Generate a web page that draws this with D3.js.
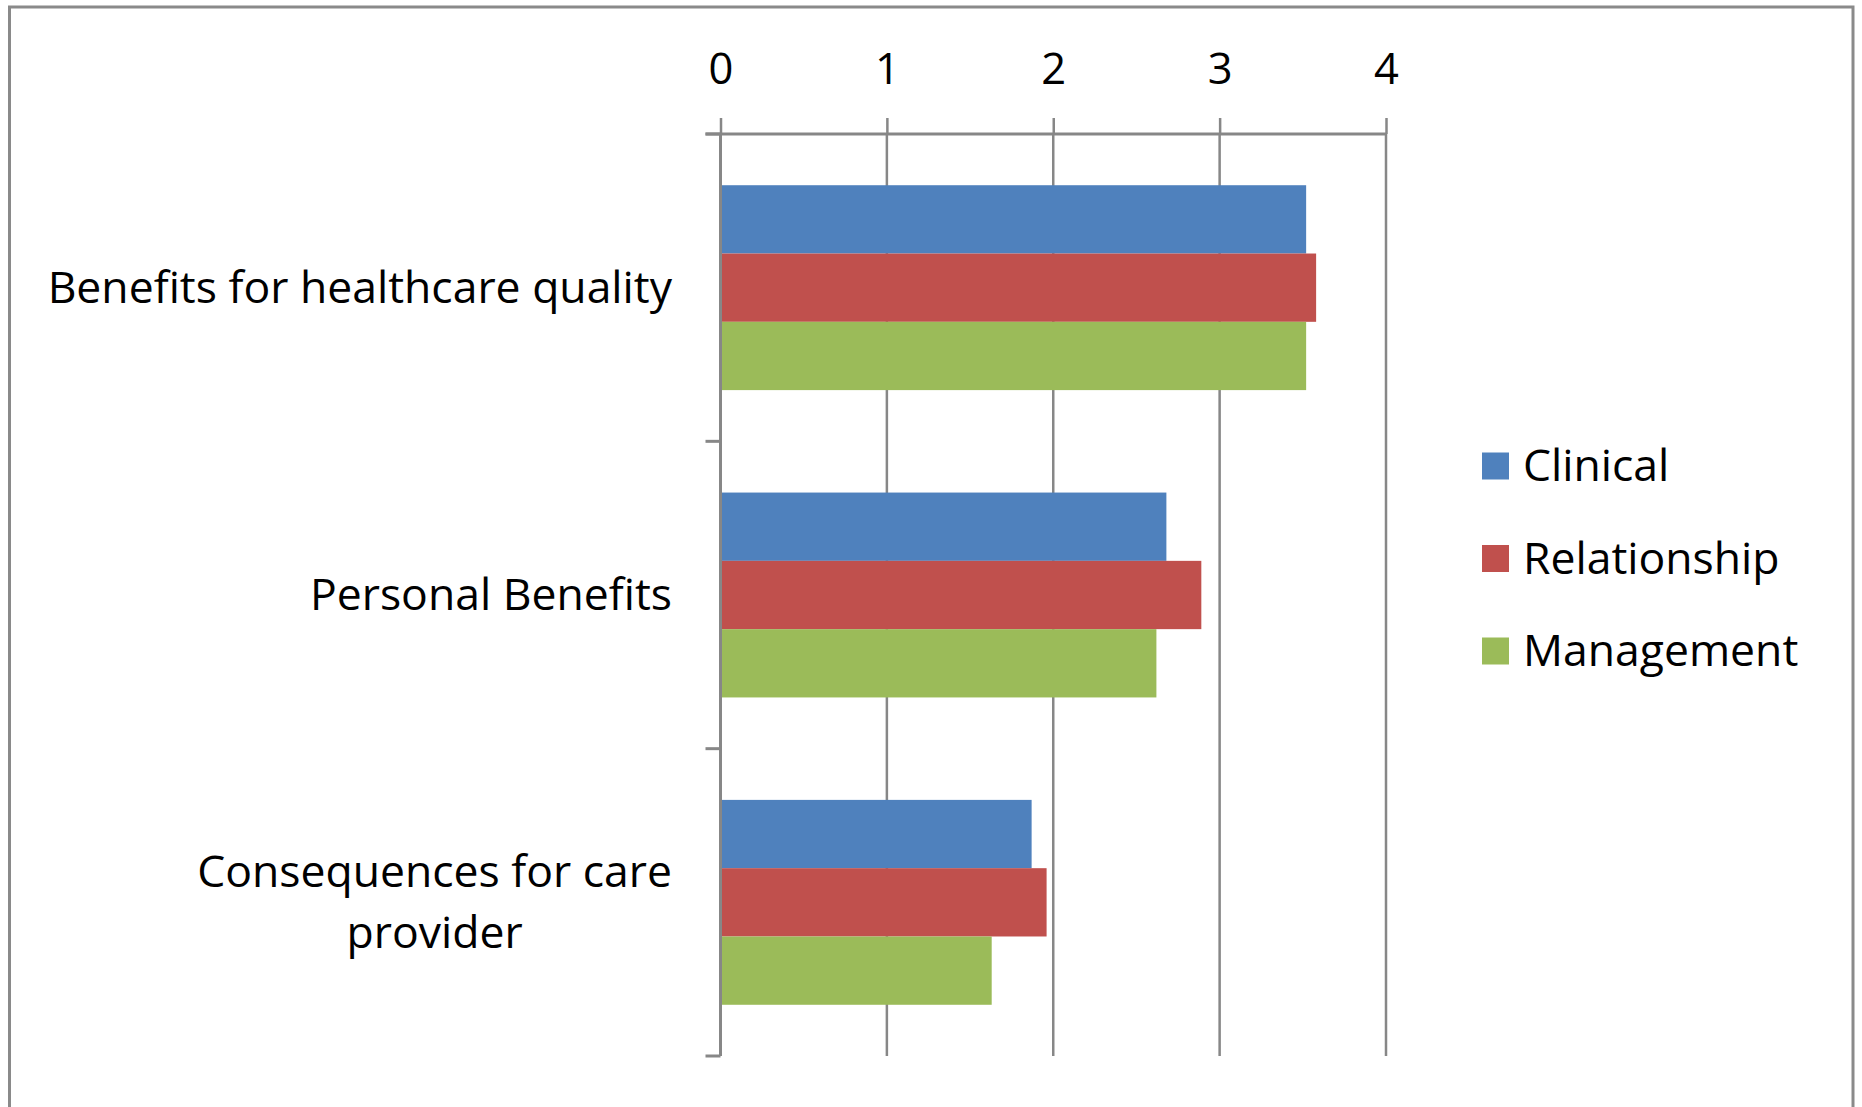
<!DOCTYPE html>
<html>
<head>
<meta charset="utf-8">
<script src="https://cdn.jsdelivr.net/npm/d3@7"></script>
<style>
  html, body { margin: 0; padding: 0; background: #fff; }
  svg { display: block; }
  text { font-family: "Open Sans", Lato, sans-serif; fill: #000; }
</style>
</head>
<body>
<svg id="chart" width="1862" height="1107"></svg>
<script>
// Survey dimensions (categories) and the mean score per respondent group.
const categories = [
  "Benefits for healthcare quality",
  "Personal Benefits",
  "Consequences for care provider"
];
// Explicit wrapping for the category labels.
const categoryLines = [
  ["Benefits for healthcare quality"],
  ["Personal Benefits"],
  ["Consequences for care", "provider"]
];
const seriesNames = ["Clinical", "Relationship", "Management"];
const clinical     = [3.52, 2.68, 1.87];
const relationship = [3.58, 2.89, 1.96];
const management   = [3.52, 2.62, 1.63];
const seriesValues = [clinical, relationship, management];
const seriesColors = ["#4F81BD", "#C0504D", "#9BBB59"];
const xTicks = [0, 1, 2, 3, 4];

const svg = d3.select("#chart");
const W = 1862, H = 1107;
const labelFont = 44.5;
const tickFont = 43.5;

// Plot area
const plot = { left: 720.5, right: 1386, top: 134, bottom: 1056 };

const x = d3.scaleLinear().domain([0, 4]).range([plot.left, plot.right]);
const y = d3.scaleBand().domain(categories)
  .range([plot.top, plot.bottom])
  .paddingInner(1 / 3).paddingOuter(1 / 6);
const ySub = d3.scaleBand().domain(seriesNames).range([0, y.bandwidth()]);

const gridColor = "#878787";

// Outer chart frame
svg.append("rect")
  .attr("x", 9.5).attr("y", 7)
  .attr("width", 1843.5).attr("height", H + 20)
  .attr("fill", "none").attr("stroke", "#8a8a8a").attr("stroke-width", 3);

// Vertical gridlines
svg.append("g").selectAll("line").data(xTicks).join("line")
  .attr("x1", d => x(d)).attr("x2", d => x(d))
  .attr("y1", plot.top).attr("y2", plot.bottom)
  .attr("stroke", gridColor).attr("stroke-width", 2.5);

// Bars
const groups = svg.append("g").selectAll("g").data(categories).join("g")
  .attr("transform", c => `translate(0,${y(c)})`);
groups.selectAll("rect")
  .data((c, i) => seriesNames.map((s, j) => ({ s, v: seriesValues[j][i], color: seriesColors[j] })))
  .join("rect")
  .attr("x", x(0))
  .attr("y", d => ySub(d.s))
  .attr("width", d => x(d.v) - x(0))
  .attr("height", ySub.bandwidth())
  .attr("fill", d => d.color);

// Top value axis
const xAxis = d3.axisTop(x).tickValues(xTicks).tickSize(16).tickPadding(34)
  .tickFormat(d3.format("d"));
const gx = svg.append("g").attr("transform", `translate(0,${plot.top})`).call(xAxis);
gx.select(".domain").remove();
gx.selectAll(".tick line").attr("stroke", gridColor).attr("stroke-width", 2.5);
gx.selectAll(".tick text").attr("font-size", tickFont).attr("fill", "#000")
  .attr("font-family", "'Open Sans', Lato, sans-serif");
gx.append("line")
  .attr("x1", plot.left - 15).attr("x2", plot.right)
  .attr("y1", 0).attr("y2", 0)
  .attr("stroke", gridColor).attr("stroke-width", 3);

// Left category axis (line and tick marks between categories)
const catBounds = [plot.top].concat(categories.map(c => y(c) + y.bandwidth() + y.step() * y.paddingInner() / 2));
svg.append("line")
  .attr("x1", plot.left).attr("x2", plot.left)
  .attr("y1", plot.top).attr("y2", plot.bottom)
  .attr("stroke", gridColor).attr("stroke-width", 3);
svg.append("g").selectAll("line").data(catBounds).join("line")
  .attr("x1", plot.left - 15).attr("x2", plot.left)
  .attr("y1", d => d).attr("y2", d => d)
  .attr("stroke", gridColor).attr("stroke-width", 3);

// Category labels: right-aligned block, lines centred within the block
const lineGap = 61;
const labelRight = 672;
categories.forEach((c, i) => {
  const lines = categoryLines[i];
  const cy = y(c) + y.bandwidth() / 2;
  const g = svg.append("g");
  const texts = lines.map((ln, k) => g.append("text")
    .attr("font-size", labelFont)
    .attr("y", cy + (k - (lines.length - 1) / 2) * lineGap + 15)
    .text(ln));
  const widths = texts.map(t => t.node().getComputedTextLength());
  const maxW = d3.max(widths);
  texts.forEach(t => t.attr("text-anchor", "middle").attr("x", labelRight - maxW / 2));
});

// Legend
const legend = svg.append("g").selectAll("g").data(seriesNames).join("g")
  .attr("transform", (d, i) => `translate(1482,${466 + i * 92.5})`);
legend.append("rect")
  .attr("x", 0).attr("y", -13.5).attr("width", 27).attr("height", 27)
  .attr("fill", (d, i) => seriesColors[i]);
legend.append("text")
  .attr("x", 41).attr("y", 15)
  .attr("font-size", labelFont)
  .text(d => d);
</script>
</body>
</html>
